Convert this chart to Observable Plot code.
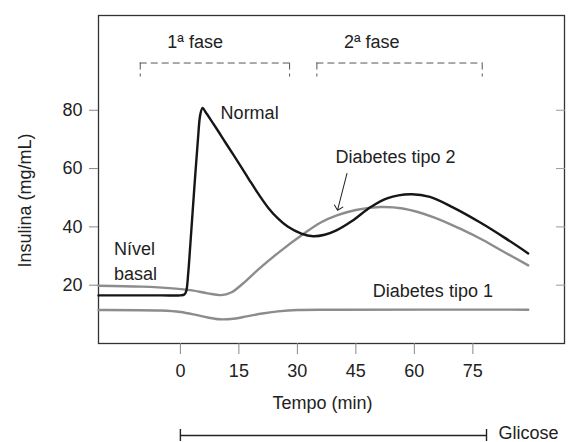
<!DOCTYPE html>
<html>
<head>
<meta charset="utf-8">
<script src="https://cdn.jsdelivr.net/npm/d3@7"></script>
<script src="https://cdn.jsdelivr.net/npm/@observablehq/plot@0.6"></script>
<style>
  html, body { margin: 0; padding: 0; background: #fff; }
</style>
</head>
<body>
<div id="chart"></div>
<script>
// ---- Data ----
const xTicks = [0, 15, 30, 45, 60, 75];
const yTicks = [20, 40, 60, 80];

// Normal response
const normalT = [-21, -5, 0, 1.0, 1.5, 2.0, 2.5, 3.5, 4.5, 5.1, 5.7, 6.4, 8, 10, 12, 15, 17.5, 20, 22.5, 25, 27.5, 31, 34, 37, 40, 44, 48.8, 53, 59, 64, 70, 77, 83, 89.2];
const normalV = [16.5, 16.5, 16.5, 16.8, 18, 24, 33, 52, 70, 78.5, 80.8, 79.5, 76.3, 72.2, 68, 61.8, 56.5, 51.3, 46.6, 42.9, 40.1, 37.7, 36.8, 37.3, 38.8, 42, 46.8, 49.8, 51.2, 50.3, 46.6, 41.4, 36.4, 30.9];

// Diabetes tipo 2
const tipo2T = [-21, -10, -2, 3, 7, 10.4, 13, 16, 20, 25, 31.7, 36, 40.3, 45, 51.3, 57, 65, 72, 77.7, 83, 89.2];
const tipo2V = [19.8, 19.5, 18.9, 18.2, 17.2, 16.6, 17.5, 20.5, 25.4, 31, 37.7, 41.5, 44, 45.8, 46.8, 46.3, 43.3, 39.2, 35.4, 31.4, 26.8];

// Diabetes tipo 1
const tipo1T = [-21, -5, 0, 4, 7, 10, 13, 17, 21, 25, 30, 40, 89.2];
const tipo1V = [11.5, 11.3, 10.8, 9.8, 8.9, 8.3, 8.4, 9.3, 10.3, 11, 11.5, 11.6, 11.6];

// Phases and glucose infusion period (minutes)
const phaseLabels = ["1ª fase", "2ª fase"];
const phaseStart = [-10.3, 35];
const phaseEnd = [28, 77.4];
const glucoseLabel = "Glicose";
const glucoseStart = 0;
const glucoseEnd = 78.5;

// ---- Tables built from the arrays ----
const normal = normalT.map((t, i) => ({t, v: normalV[i]}));
const tipo2 = tipo2T.map((t, i) => ({t, v: tipo2V[i]}));
const tipo1 = tipo1T.map((t, i) => ({t, v: tipo1V[i]}));
const phases = phaseLabels.map((label, i) => ({label, start: phaseStart[i], end: phaseEnd[i]}));
const phaseEnds = phases.flatMap(p => [p.start, p.end]);
const glucose = [{label: glucoseLabel, start: glucoseStart, end: glucoseEnd}];

const normalPeak = normal.reduce((a, b) => (b.v > a.v ? b : a));
const tipo2Arrow = tipo2.find(d => d.t === 40.3);
const tipo1Label = {t: 65, v: tipo1V[tipo1V.length - 1]};
const basal = normal[0];

const BLACK = "#161616";
const GRAY = "#8c8c8c";
const TEXT = "#222";
const bracketY = 96.2;

const chart = Plot.plot({
  width: 568,
  height: 442,
  marginLeft: 98,
  marginRight: 4,
  marginTop: 15,
  marginBottom: 99,
  x: {domain: [-21, 98.5]},
  y: {domain: [0, 112.5]},
  style: {fontFamily: "'Liberation Sans', Arial, Helvetica, sans-serif", fontSize: "18px", color: TEXT, background: "#fff"},
  marks: [
    Plot.frame({stroke: "#333", strokeWidth: 1.3}),
    Plot.axisX({ticks: xTicks, tickSize: 11, tickPadding: 10, label: null, stroke: "#888", fill: TEXT}),
    Plot.axisY({ticks: yTicks, tickSize: 9, tickPadding: 7, label: null, stroke: "#888", fill: TEXT}),
    Plot.axisY({ticks: yTicks, anchor: "right", tickSize: 9, dx: -9, label: null, stroke: "#999", fill: "none"}),

    // curves
    Plot.line(tipo1, {x: "t", y: "v", stroke: GRAY, strokeWidth: 2.4, curve: "catmull-rom"}),
    Plot.line(tipo2, {x: "t", y: "v", stroke: GRAY, strokeWidth: 2.4, curve: "catmull-rom"}),
    Plot.line(normal, {x: "t", y: "v", stroke: BLACK, strokeWidth: 2.4, curve: "catmull-rom"}),

    // phase brackets
    Plot.ruleY(phases, {x1: "start", x2: "end", y: () => bracketY, stroke: "#555", strokeWidth: 1, strokeDasharray: "7,4"}),
    Plot.ruleX(phaseEnds, {x: d => d, y1: () => bracketY, y2: () => bracketY - 4.8, stroke: "#555", strokeWidth: 1, strokeDasharray: "7,4"}),
    Plot.text(phases, {x: "start", y: () => bracketY, text: "label", textAnchor: "start", dx: 27, dy: -21, fill: TEXT}),

    // curve labels
    Plot.text([normalPeak], {x: "t", y: "v", text: () => "Normal", textAnchor: "start", dx: 18, dy: 5, fill: TEXT}),
    Plot.vector([tipo2Arrow], {x: "t", y: "v", length: 38, rotate: 194.4, anchor: "end", dy: -5, stroke: TEXT, strokeWidth: 1, r: 2}),
    Plot.text([tipo2Arrow], {x: "t", y: "v", text: () => "Diabetes tipo 2", textAnchor: "middle", dx: 58, dy: -58, fill: TEXT}),
    Plot.text([tipo1Label], {x: "t", y: "v", text: () => "Diabetes tipo 1", textAnchor: "middle", dx: -1, dy: -18, fill: TEXT}),
    Plot.text([basal], {x: "t", y: "v", text: () => "Nível\nbasal", textAnchor: "start", lineAnchor: "middle", lineHeight: 1.39, dx: 15.5, dy: -36, fill: TEXT}),

    // axis titles
    Plot.text(["Insulina (mg/mL)"], {frameAnchor: "left", text: d => d, rotate: -90, textAnchor: "middle", lineAnchor: "middle", dx: -73, dy: 21, fill: TEXT}),
    Plot.text(["Tempo (min)"], {frameAnchor: "bottom", text: d => d, textAnchor: "middle", lineAnchor: "middle", dx: -9, dy: 60, fill: TEXT}),

    // glucose bar
    Plot.ruleY(glucose, {x1: "start", x2: "end", y: () => 0, dy: 92, stroke: TEXT, strokeWidth: 1.4}),
    Plot.ruleX(glucose.flatMap(g => [g.start, g.end]), {x: d => d, y1: () => 0, y2: () => 0, insetTop: 6, insetBottom: 6, dy: 92, stroke: TEXT, strokeWidth: 1.4}),
    Plot.text(glucose, {x: "end", y: () => 0, text: "label", textAnchor: "start", lineAnchor: "middle", dx: 12, dy: 89.5, fill: TEXT})
  ]
});
document.getElementById("chart").appendChild(chart);
</script>
</body>
</html>
